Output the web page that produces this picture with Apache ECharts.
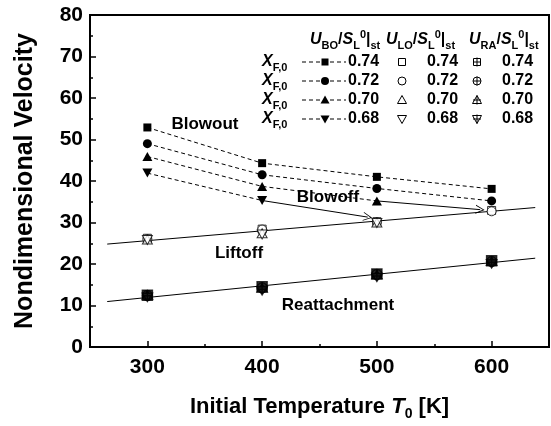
<!DOCTYPE html>
<html><head><meta charset="utf-8">
<script src="https://cdn.jsdelivr.net/npm/echarts@6/dist/echarts.min.js"></script>
<style>html,body{margin:0;padding:0;background:#fff}#c{width:551px;height:426px}</style>
</head><body><div id="c"></div>
<script>
// ---------- data ----------
const temps = [300, 400, 500, 600];
const xTickLabels = [300, 400, 500, 600];
const xMinorTicks = [350, 450, 550];
const fuelFractions = ['0.74', '0.72', '0.70', '0.68'];
// Blowout velocity U_BO/S_L0|st (filled symbols, dashed lines)
const blowout074 = [52.9, 44.3, 41.0, 38.1];
const blowout072 = [49.0, 41.5, 38.2, 35.2];
const blowout070 = [45.9, 38.7, 35.2, null];
const blowout068 = [41.9, 35.3, null, null];
// Liftoff velocity U_LO/S_L0|st (open symbols)
const liftoff074 = [26.2, 28.4, 30.2, 32.9];
const liftoff072 = [26.0, 28.3, 30.1, 32.7];
const liftoff070 = [25.9, 27.4, 30.0, null];
const liftoff068 = [25.8, 27.1, 29.9, null];
// Reattachment velocity U_RA/S_L0|st (crossed symbols)
const reattach074 = [12.5, 14.5, 17.6, 20.8];
const reattach072 = [12.4, 14.3, 17.5, 20.6];
const reattach070 = [12.3, 14.0, 17.2, 20.4];
const reattach068 = [12.2, 13.8, 17.0, 20.3];
// fitted trend lines (endpoints)
const liftoffFitT = [265, 638];
const liftoffFitV = [24.8, 33.6];
const reattachFitT = [265, 638];
const reattachFitV = [10.95, 21.4];
// blowoff arrows (start -> end)
const arrowStartT = [400, 500];
const arrowStartV = [35.3, 35.2];
const arrowEndT = [492, 590];
const arrowEndV = [31.3, 33.1];

// ---------- styling ----------
const FONT = "'Liberation Sans', Arial, Helvetica, sans-serif";
const SQ = 'M0,0L10,0L10,10L0,10Z';
const CI = 'M5,0A5,5,0,1,1,5,10A5,5,0,1,1,5,0Z';
const TR = 'M5,0L10,9L0,9Z';
const TD = 'M0,0L10,0L5,9Z';
const SQP = SQ + 'M5,0L5,10M0,5L10,5';
const CIP = CI + 'M5,0L5,10M0,5L10,5';
const TRP = 'M5,0L9.5,8L0.5,8Z M5,0L5,10 M1,5.5L9,5.5';
const TDP = 'M0.5,2L9.5,2L5,10Z M5,0L5,10 M1,4.5L9,4.5';
const shapes = [SQ, CI, TR, TD];
const shapesP = [SQP, CIP, TRP, TDP];
const sizes = [[8,8],[9,9],[10,9],[10,9]];

const zip = (xs, ys) => xs.map((x, i) => [x, ys[i]]);
const blowouts = [blowout074, blowout072, blowout070, blowout068];
const liftoffs = [liftoff074, liftoff072, liftoff070, liftoff068];
const reattaches = [reattach074, reattach072, reattach070, reattach068];

const series = [];
series.push({type:'line', data: zip(liftoffFitT, liftoffFitV), symbol:'none', lineStyle:{color:'#000', width:1}, z:1, silent:true});
series.push({type:'line', data: zip(reattachFitT, reattachFitV), symbol:'none', lineStyle:{color:'#000', width:1}, z:1, silent:true});
series.push({type:'line', data: [], silent:true,
  markLine:{silent:true, animation:false, symbol:['none','path://M5,0L10,10L9,10L5,2L1,10L0,10Z'], symbolSize:[9,9],
    label:{show:false}, lineStyle:{color:'#000', width:1, type:'solid'},
    data: arrowStartT.map((t,i)=>[{coord:[t, arrowStartV[i]]},{coord:[arrowEndT[i], arrowEndV[i]]}])}});
fuelFractions.forEach((f, i) => {
  series.push({name:'BO '+f, type:'line', data: zip(temps, blowouts[i]), symbol:'path://'+shapes[i], symbolSize:sizes[i],
    itemStyle:{color:'#000'}, lineStyle:{color:'#000', width:1, type:[4,3]}, z:3});
});
fuelFractions.forEach((f, i) => {
  series.push({name:'LO '+f, type:'scatter', data: zip(temps, liftoffs[i]).filter(d=>d[1]!=null), symbol:'path://'+shapes[i], symbolSize:sizes[i],
    itemStyle:{color:'#fff', borderColor:'#000', borderWidth:1}, z:4});
});
fuelFractions.forEach((f, i) => {
  series.push({name:'RA '+f, type:'scatter', data: zip(temps, reattaches[i]), symbol:'path://'+shapesP[i], symbolSize:[10,10],
    itemStyle:{color:'#222', borderColor:'#000', borderWidth:1.5}, z:4});
});

// ---------- legend & annotations (graphic) ----------
const g = [];
function st(filled) { return filled ? {fill:'#000'} : {fill:'#fff', stroke:'#000', lineWidth:1}; }
function legendSym(kind, cx, cy, filled, plus) {
  const out = [];
  if (kind === 0) out.push({type:'rect', shape:{x:cx-3.5, y:cy-3.5, width:7, height:7}, style:st(filled), z:10});
  if (kind === 1) out.push({type:'circle', shape:{cx:cx, cy:cy, r:4}, style:st(filled), z:10});
  if (kind === 2) out.push({type:'polygon', shape:{points:[[cx, cy-4.5],[cx+4.5, cy+3.5],[cx-4.5, cy+3.5]]}, style:st(filled), z:10});
  if (kind === 3) out.push({type:'polygon', shape:{points:[[cx-4.5, cy-3.5],[cx+4.5, cy-3.5],[cx, cy+4.5]]}, style:st(filled), z:10});
  if (plus) {
    out.push({type:'line', shape:{x1:cx, y1:cy-4.5, x2:cx, y2:cy+4.5}, style:{stroke:'#000', lineWidth:1}, z:11});
    out.push({type:'line', shape:{x1:cx-4, y1:cy, x2:cx+4, y2:cy}, style:{stroke:'#000', lineWidth:1}, z:11});
  }
  return out;
}
const rich = {
  n:{fontFamily:FONT, fontWeight:'bold', fontSize:16, fill:'#000', lineHeight:22, verticalAlign:'middle'},
  i:{fontFamily:FONT, fontWeight:'bold', fontStyle:'italic', fontSize:16, fill:'#000', lineHeight:22, verticalAlign:'middle'},
  b:{fontFamily:FONT, fontWeight:'bold', fontSize:11, fill:'#000', lineHeight:22, verticalAlign:'bottom'},
  p:{fontFamily:FONT, fontWeight:'bold', fontSize:11, fill:'#000', lineHeight:22, verticalAlign:'top'}
};
function rtext(str, x, y, align) {
  return {type:'text', x:x, y:y, z:10, style:{text:str, rich:rich, align:align||'left', verticalAlign:'middle', fill:'#000'}};
}
const headY = 40;
g.push(rtext('{i|U}{b|BO}{n|/}{i|S}{b|L}{p|0}{n||}{b|st}', 310, headY));
g.push(rtext('{i|U}{b|LO}{n|/}{i|S}{b|L}{p|0}{n||}{b|st}', 386, headY));
g.push(rtext('{i|U}{b|RA}{n|/}{i|S}{b|L}{p|0}{n||}{b|st}', 469, headY));
const rowY = [62, 81, 100, 119];
fuelFractions.forEach((f, i) => {
  const y = rowY[i];
  g.push(rtext('{i|X}{b|F,0}', 262, y));
  g.push({type:'line', shape:{x1:302, y1:y, x2:346, y2:y}, style:{stroke:'#000', lineWidth:1, lineDash:[4,3]}, z:9});
  legendSym(i, 325, y, true, false).forEach(e => g.push(e));
  g.push(rtext('{n|'+f+'}', 348, y));
  legendSym(i, 402, y, false, false).forEach(e => g.push(e));
  g.push(rtext('{n|'+f+'}', 427, y));
  legendSym(i, 477, y, false, true).forEach(e => g.push(e));
  g.push(rtext('{n|'+f+'}', 502, y));
});
function ann(str, x, y) {
  return {type:'text', x:x, y:y, z:10, style:{text:str, fontFamily:FONT, fontWeight:'bold', fontSize:17, fill:'#000', align:'center', verticalAlign:'middle'}};
}
g.push(ann('Blowout', 205, 124));
g.push(ann('Blowoff', 328, 197));
g.push(ann('Liftoff', 239, 253));
g.push(ann('Reattachment', 338, 305));

const option = {
  animation:false,
  backgroundColor:'#fff',
  grid:{left:90, right:2, top:15, bottom:75, show:true, borderColor:'#000', borderWidth:2, backgroundColor:'transparent'},
  xAxis:[{
    type:'value', min:250, max:650, position:'bottom',
    name:'{a|Initial Temperature }{t|T}{s|0}{a| [K]}', nameLocation:'middle', nameGap:46,
    nameTextStyle:{rich:{
      a:{fontFamily:FONT, fontWeight:'bold', fontSize:22, color:'#000', lineHeight:28, verticalAlign:'middle'},
      t:{fontFamily:FONT, fontWeight:'bold', fontStyle:'italic', fontSize:22, color:'#000', lineHeight:28, verticalAlign:'middle'},
      s:{fontFamily:FONT, fontWeight:'bold', fontSize:14, color:'#000', lineHeight:28, verticalAlign:'bottom'}}},
    axisLine:{lineStyle:{color:'#000', width:2}},
    axisTick:{inside:true, length:6, lineStyle:{color:'#000', width:1.5}, customValues:xTickLabels},
    axisLabel:{fontFamily:FONT, fontWeight:'bold', fontSize:21, color:'#000', margin:10, customValues:xTickLabels},
    splitLine:{show:false}
  },{
    type:'value', min:250, max:650, position:'bottom',
    axisLine:{show:false},
    axisTick:{inside:true, length:3, lineStyle:{color:'#000', width:1.5}, customValues:xMinorTicks},
    axisLabel:{show:false}, splitLine:{show:false}
  }],
  yAxis:{
    type:'value', min:0, max:80, interval:10,
    name:'Nondimensional Velocity', nameLocation:'middle', nameGap:52,
    nameTextStyle:{fontFamily:FONT, fontWeight:'bold', fontSize:25, color:'#000'},
    axisLine:{show:true, lineStyle:{color:'#000', width:2}},
    axisTick:{inside:true, length:6, lineStyle:{color:'#000', width:1.5}},
    minorTick:{show:true, splitNumber:2, length:3, lineStyle:{color:'#000', width:1.5}},
    axisLabel:{fontFamily:FONT, fontWeight:'bold', fontSize:21, color:'#000', margin:7},
    splitLine:{show:false}
  },
  series: series,
  graphic: g
};
const chart = echarts.init(document.getElementById('c'), null, {renderer:'canvas'});
chart.setOption(option);
</script>
</body></html>
